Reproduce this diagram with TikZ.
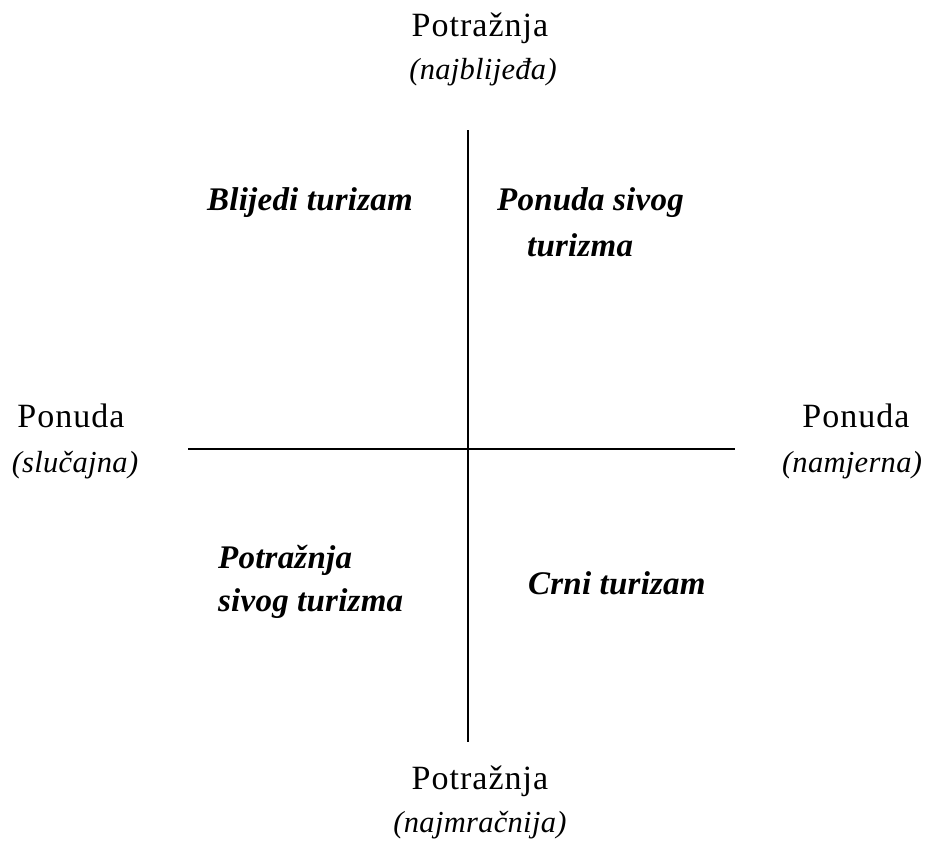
\documentclass[tikz,border=0pt]{standalone}
\usepackage{fontspec}
\setmainfont{Liberation Serif}[LetterSpace=3]
\newfontfamily\itfam{Liberation Serif}[LetterSpace=1]
\newfontfamily\bifam{Liberation Serif}[LetterSpace=0.7]
\begin{document}
\begin{tikzpicture}[x=1pt,y=-1pt,
  lbl/.style={font=\fontsize{34}{40}\selectfont, inner sep=0pt, anchor=center},
  ilbl/.style={font=\itfam\fontsize{30.5}{40}\selectfont\itshape, inner sep=0pt, anchor=center},
  qlbl/.style={font=\bifam\fontsize{33}{44}\selectfont\bfseries\itshape, inner sep=0pt, align=left, anchor=west},
  axis/.style={line width=2.2pt}]
\useasboundingbox (0,0) rectangle (931,841);
\node[lbl] (tn) at (480,28) {Potražnja};
\node[ilbl] (tni) at (483,72) {(najblijeđa)};
\node[lbl] (ln) at (71,416) {Ponuda};
\node[ilbl] (lni) at (75,465) {(slučajna)};
\node[lbl] (rn) at (856,416) {Ponuda};
\node[ilbl] (rni) at (852,465) {(namjerna)};
\node[lbl] (bn) at (480,781) {Potražnja};
\node[ilbl] (bni) at (480,825) {(najmračnija)};
\coordinate (vt) at (468,130);
\coordinate (vb) at (468,742);
\coordinate (hl) at (188,449);
\coordinate (hr) at (735,449);
\draw[axis] (vt) -- (vb);
\draw[axis] (hl) -- (hr);
\node[qlbl] (q1) at (207,203) {Blijedi turizam};
\node[qlbl] (q2a) at (497,203) {Ponuda sivog};
\node[qlbl] (q2b) at (527,245) {turizma};
\node[qlbl] (q3a) at (218,560) {Potražnja};
\node[qlbl] (q3b) at (218,604) {sivog turizma};
\node[qlbl] (q4) at (528,583) {Crni turizam};
\end{tikzpicture}
\end{document}
